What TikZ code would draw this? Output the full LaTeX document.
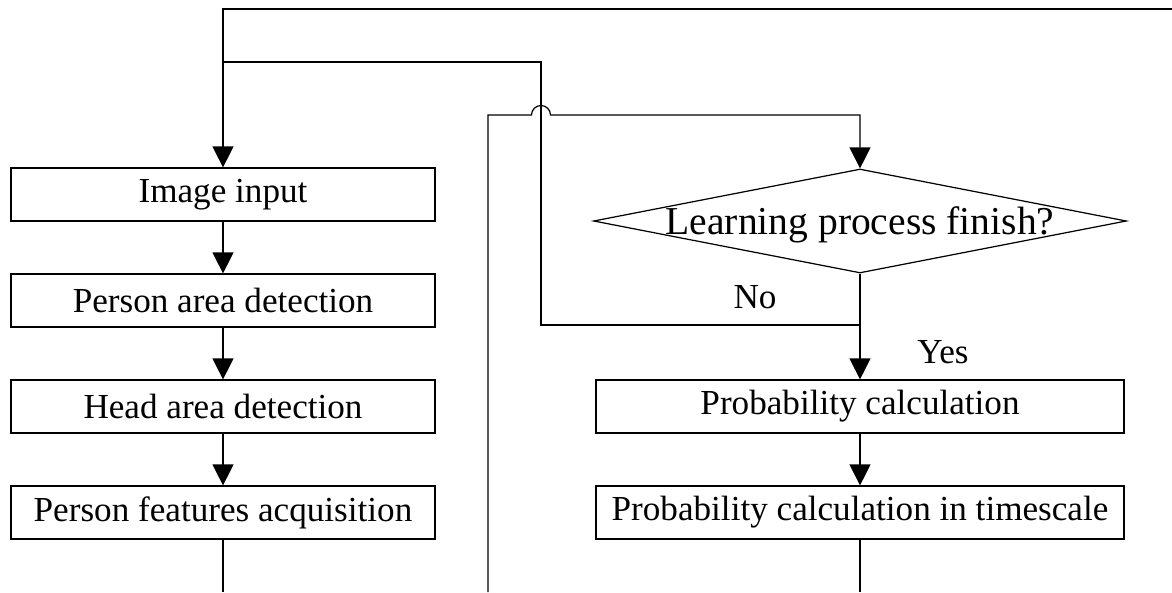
\documentclass[tikz,border=0pt]{standalone}
\usepackage{fontspec}
\setmainfont{Liberation Serif}
\usetikzlibrary{arrows.meta, shapes.geometric, positioning}

\begin{document}
\begin{tikzpicture}[
    x=0.02cm, y=-0.02cm,
    line width=0.7pt,
    stepbox/.style={draw, minimum width=#1, minimum height=1.06cm,
                 inner sep=0pt, align=center, font=\fontsize{20}{24}\selectfont},
    dec/.style={draw, diamond, aspect=5.125, minimum width=10.66cm,
                minimum height=2.08cm, inner sep=0pt,
                font=\fontsize{22.5}{27}\selectfont},
    lbl/.style={font=\fontsize{20}{24}\selectfont},
    arr/.style={-{Triangle[length=0.42cm, width=0.42cm]}}
]
\useasboundingbox (0,0) rectangle (1172,592);

%% ── Left lane ──────────────────────────────────────────────────────────
\node[stepbox=8.48cm] (img) at (223,194.5) {Image input};
\node[stepbox=8.48cm] (pad) at (223,300.5) {Person area detection};
\node[stepbox=8.48cm] (had) at (223,406.5) {Head area detection};
\node[stepbox=8.48cm] (pfa) at (223,512.5) {Person features acquisition};

%% ── Right lane ─────────────────────────────────────────────────────────
\node[dec] (lpf) at (860,221)
      {\smash{\raisebox{-0.33em}{Learning process finish?}}};
\node[stepbox=10.56cm] (prc) at (860,406.5) {Probability calculation};
\node[stepbox=10.56cm] (prt) at (860,512.5) {Probability calculation in timescale};

%% ── Branch labels ──────────────────────────────────────────────────────
\node[lbl] (no)  at (755,297) {No};
\node[lbl] (yes) at (943,352) {Yes};

%% ── Free ends ──────────────────────────────────────────────────────────
\coordinate (topR) at (1172,9);
\coordinate (topL) at (223,9);
\coordinate (joinL) at (223,62);
\coordinate (noA) at (860,325);
\coordinate (botL) at (223,592);
\coordinate (botM) at (488,592);
\coordinate (botR) at (860,592);

%% ── Connectors ─────────────────────────────────────────────────────────
\draw[arr] (topR) -- (topL) -- (img.north);
\draw[arr] (img) -- (pad); \draw[arr] (pad) -- (had); \draw[arr] (had) -- (pfa);
\draw (pfa) -- (botL);
\draw (noA) -| (541,62) -- (joinL);
\draw[arr] (botM) -- (488,115) -- (531.5,115) arc (180:0:0.19cm)
      -- (860,115) -- (lpf.north);
\draw[arr] (lpf.south) -- (prc.north);
\draw[arr] (prc) -- (prt);
\draw (prt) -- (botR);
\end{tikzpicture}
\end{document}
